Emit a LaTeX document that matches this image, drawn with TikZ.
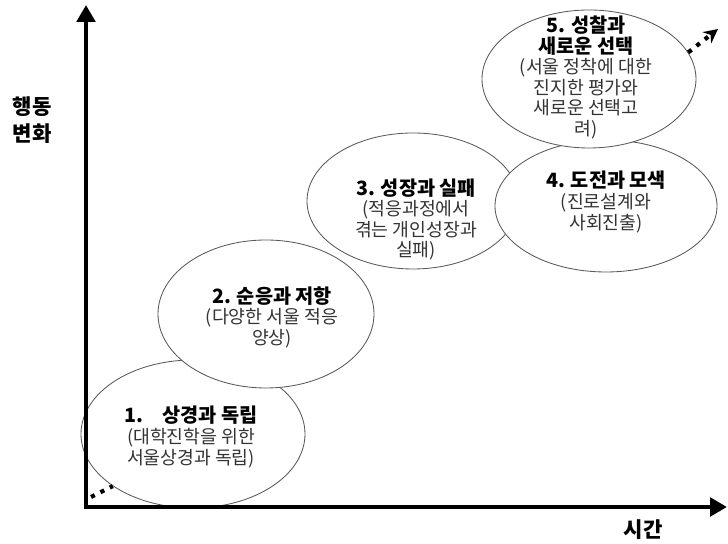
\documentclass[tikz,border=0pt]{standalone}
\usepackage{fontspec}
\setmainfont{Noto Sans CJK KR}
\usetikzlibrary{arrows.meta,shapes.geometric}

\begin{document}
\begin{tikzpicture}[
    stage/.style={ellipse,draw=black!65,line width=0.6pt,fill=white,inner sep=0pt},
    stagetext/.style={align=center,font=\fontsize{13}{14.6}\selectfont,text=black!80},
    axislabel/.style={align=center,font=\fontsize{15}{19}\selectfont\bfseries},
    dots/.style={line width=3pt,dash pattern=on 3pt off 4.5pt}]
    \useasboundingbox (0,0) rectangle (18.2,13.6);
    % stages, back to front
    \node[stage,minimum width=5.6cm,minimum height=3.7cm] (s1) at (4.825,2.75) {};
    \node[stage,minimum width=5.3cm,minimum height=3.4cm] (s3) at (10.325,8.575) {};
    \node[stage,minimum width=5.4cm,minimum height=3.7cm] (s2) at (6.65,5.75) {};
    \node[stage,minimum width=5.55cm,minimum height=3.3cm] (s4) at (15.15,8.45) {};
    \node[stage,minimum width=5.35cm,minimum height=3.45cm] (s5) at (14.725,11.625) {};
    \node[stagetext] (t1) at (4.775,2.675) {{\color{black}\textbf{\fontsize{14}{16}\selectfont 1.\quad 상경과 독립}}\\(대학진학을 위한\\서울상경과 독립)};
    \node[stagetext] (t2) at (6.8,5.675) {{\color{black}\textbf{\fontsize{14}{16}\selectfont 2. 순응과 저항}}\\(다양한 서울 적응\\양상)};
    \node[stagetext] (t3) at (10.4,8.11) {{\color{black}\textbf{\fontsize{14}{16}\selectfont 3. 성장과 실패}}\\(적응과정에서\\겪는 개인성장과\\실패)};
    \node[stagetext] (t4) at (15.15,8.55) {{\color{black}\textbf{\fontsize{14}{16}\selectfont 4. 도전과 모색}}\\(진로설계와\\사회진출)};
    \node[stagetext] (t5) at (14.65,11.66) {{\color{black}\textbf{\fontsize{14}{16}\selectfont 5. 성찰과}}\\{\color{black}\textbf{\fontsize{14}{16}\selectfont 새로운 선택}}\\(서울 정착에 대한\\진지한 평가와\\새로운 선택고\\려)};
    % dotted ends
    \coordinate (d1) at (2.275,1.175);
    \coordinate (d2) at (17.95,12.875);
    \draw[dots] (d1) -- (s1.213);
    \draw[dots,-{Stealth[length=10pt,width=10pt]}] (s5.15) -- (d2);
    % axes
    \coordinate (o) at (2.15,0.925);
    \coordinate (ytip) at (2.15,13.475);
    \coordinate (xtip) at (18.175,0.925);
    \draw[line width=3.5pt,{Triangle[length=12pt,width=13pt]}-{Triangle[length=12pt,width=13pt]}] (ytip) -- (o) -- (xtip);
    \node[axislabel] (ylab) at (0.8,10.6) {행동\\변화};
    \node[axislabel] (xlab) at (16.075,0.35) {시간};
  \end{tikzpicture}
\end{document}
